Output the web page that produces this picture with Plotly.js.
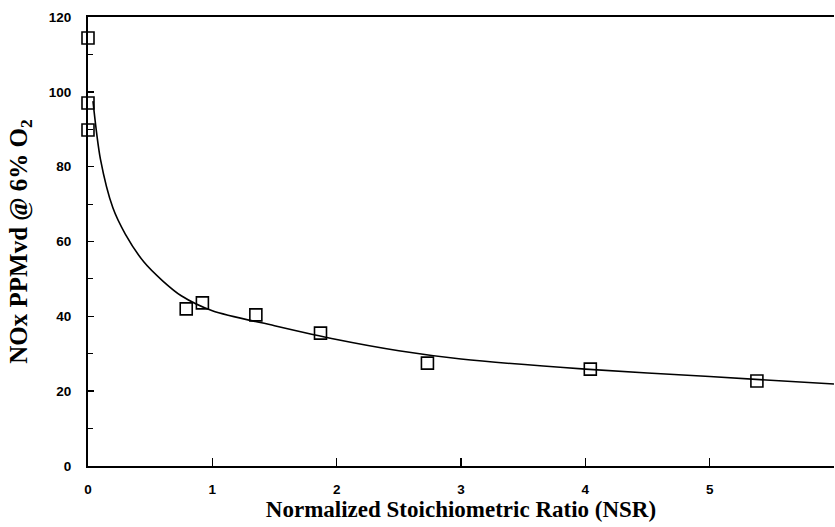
<!DOCTYPE html>
<html>
<head>
<meta charset="utf-8">
<script src="https://cdn.plot.ly/plotly-3.0.1.min.js"></script>
<style>html,body{margin:0;padding:0;background:#fff;}#chart{width:835px;height:527px;}</style>
</head>
<body>
<div id="chart"></div>
<script>
// Measured data points (NSR vs NOx ppmvd @ 6% O2)
const nsrPoints = [0, 0, 0, 0.79, 0.92, 1.35, 1.87, 2.73, 4.04, 5.38];
const noxPoints = [114.4, 97.0, 89.8, 42.0, 43.6, 40.4, 35.5, 27.5, 25.9, 22.7];

// Fitted curve
const curveNsr = [0.04, 0.1, 0.2, 0.3, 0.45, 0.6, 0.75, 1.0, 1.5, 2.0, 2.5, 3.0, 4.0, 5.0, 6.0];
const curveNox = [97.5, 82, 69, 62, 54.5, 49.5, 45.5, 41.5, 37.5, 33.8, 30.8, 28.6, 25.9, 23.9, 21.9];

const xTickVals = [0, 1, 2, 3, 4, 5];
const yTickVals = [0, 20, 40, 60, 80, 100, 120];

const traces = [
  {
    x: curveNsr, y: curveNox, type: 'scatter', mode: 'lines',
    line: {color: '#000', width: 1.6, shape: 'spline', smoothing: 0.8},
    hoverinfo: 'skip', showlegend: false
  },
  {
    x: nsrPoints, y: noxPoints, type: 'scatter', mode: 'markers',
    marker: {symbol: 'square-open', size: 12, color: '#000', line: {color: '#000', width: 1.6}},
    cliponaxis: false, showlegend: false
  }
];

const tickFont = {family: 'Liberation Sans, Arial, sans-serif', size: 13.5, color: '#000', weight: 'bold'};
const xTitleFont = {family: 'Liberation Serif, Times New Roman, serif', size: 23, color: '#000', weight: 'bold'};
const yTitleFont = {family: 'Liberation Serif, Times New Roman, serif', size: 25, color: '#000', weight: 'bold'};

const layout = {
  width: 835, height: 527,
  margin: {l: 88, r: 1, t: 17, b: 61},
  paper_bgcolor: '#fff', plot_bgcolor: '#fff',
  showlegend: false,
  xaxis: {
    range: [0, 6], tickvals: xTickVals, ticktext: xTickVals.map(String),
    showgrid: false, zeroline: false,
    showline: true, linecolor: '#000', linewidth: 2, mirror: true,
    ticks: 'inside', ticklen: 8, tickwidth: 1.5, tickcolor: '#000',
    ticklabelstandoff: 10,
    tickfont: tickFont,
    title: {text: 'Normalized Stoichiometric Ratio (NSR)', font: xTitleFont, standoff: 2},
    automargin: false
  },
  yaxis: {
    range: [0, 120], tickvals: yTickVals, ticktext: yTickVals.map(String),
    showgrid: false, zeroline: false,
    showline: true, linecolor: '#000', linewidth: 2,
    ticks: 'inside', ticklen: 6, tickwidth: 1.5, tickcolor: '#000',
    minor: {dtick: 10, tick0: 0, ticks: 'inside', ticklen: 5, tickwidth: 1, tickcolor: '#000', showgrid: false},
    ticklabelstandoff: 12,
    tickfont: tickFont,
    title: {text: 'NOx PPMvd @ 6% O<sub>2</sub>', font: yTitleFont, standoff: 14},
    automargin: false
  }
};

Plotly.newPlot('chart', traces, layout, {displayModeBar: false, staticPlot: true});
</script>
</body>
</html>
